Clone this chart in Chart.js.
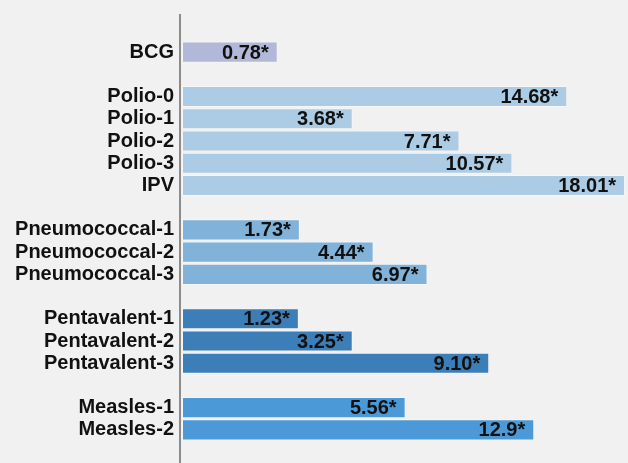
<!DOCTYPE html>
<html>
<head>
<meta charset="utf-8">
<script src="https://cdn.jsdelivr.net/npm/chart.js@4"></script>
<style>
  html, body { margin: 0; padding: 0; background: #f1f1f1; }
  #wrap { width: 628px; height: 463px; }
</style>
</head>
<body>
<div id="wrap"><canvas id="barChart" width="628" height="463"></canvas></div>
<script>
// empty strings are spacer rows between vaccine groups
const categories = ["BCG", "", "Polio-0", "Polio-1", "Polio-2", "Polio-3", "IPV", "",
  "Pneumococcal-1", "Pneumococcal-2", "Pneumococcal-3", "",
  "Pentavalent-1", "Pentavalent-2", "Pentavalent-3", "", "Measles-1", "Measles-2"];
// printed values
const valueLabels = ["0.78", null, "14.68", "3.68", "7.71", "10.57", "18.01", null,
  "1.73", "4.44", "6.97", null, "1.23", "3.25", "9.10", null, "5.56", "12.9"];
// bar lengths as drawn (read off the picture, not proportional to the printed values)
const barLengths = [3.89, null, 15.66, 6.94, 11.28, 13.43, 18.01, null,
  4.79, 7.79, 9.98, null, 4.75, 6.94, 12.49, null, 9.09, 14.32];
const groupOf = ["bcg", null, "polio", "polio", "polio", "polio", "polio", null,
  "pneumo", "pneumo", "pneumo", null, "penta", "penta", "penta", null, "measles", "measles"];
const groupColors = { bcg: "#b2b8d8", polio: "#abcce4", pneumo: "#80b2da", penta: "#3b7eb8", measles: "#4b9ad7" };

const valueLabelPlugin = {
  id: "valueLabels",
  beforeDatasetsDraw(chart) {
    const c = chart.ctx;
    const left = chart.chartArea.left;
    c.save();
    c.strokeStyle = "#8c8c8c";
    c.lineWidth = 2;
    c.beginPath();
    c.moveTo(left - 2, 14);
    c.lineTo(left - 2, chart.height);
    c.stroke();
    c.restore();
  },
  afterDatasetsDraw(chart) {
    const c = chart.ctx;
    c.save();
    c.font = "bold 20px 'Liberation Sans', Arial, sans-serif";
    c.fillStyle = "#111";
    c.textAlign = "right";
    c.textBaseline = "middle";
    chart.getDatasetMeta(0).data.forEach((bar, i) => {
      if (valueLabels[i] == null) return;
      c.fillText(valueLabels[i] + "*", bar.x - 9, bar.y + 1);
    });
    c.restore();
  }
};

const ctx = document.getElementById("barChart").getContext("2d");
new Chart(ctx, {
  type: "bar",
  data: {
    labels: categories,
    datasets: [
      {
        data: barLengths,
        backgroundColor: groupOf.map((g) => (g ? groupColors[g] : "transparent")),
        borderColor: "rgba(255,255,255,0.4)",
        borderWidth: 1,
        borderSkipped: false,
        barPercentage: 1,
        categoryPercentage: 0.95,
      },
    ],
  },
  options: {
    indexAxis: "y",
    responsive: false,
    animation: false,
    layout: { padding: { top: 41, bottom: 22, left: 0, right: 0 } },
    plugins: {
      legend: { display: false },
      tooltip: { enabled: false },
    },
    scales: {
      x: { display: false, min: 0, max: 18.13 },
      y: {
        grid: { display: false },
        border: { display: false },
        ticks: {
          autoSkip: false,
          padding: 0,
          color: "#111",
          font: { family: "'Liberation Sans', Arial, sans-serif", size: 20, weight: "bold" },
        },
        afterFit(scale) {
          scale.width = 182;
        },
      },
    },
  },
  plugins: [valueLabelPlugin],
});
</script>
</body>
</html>
